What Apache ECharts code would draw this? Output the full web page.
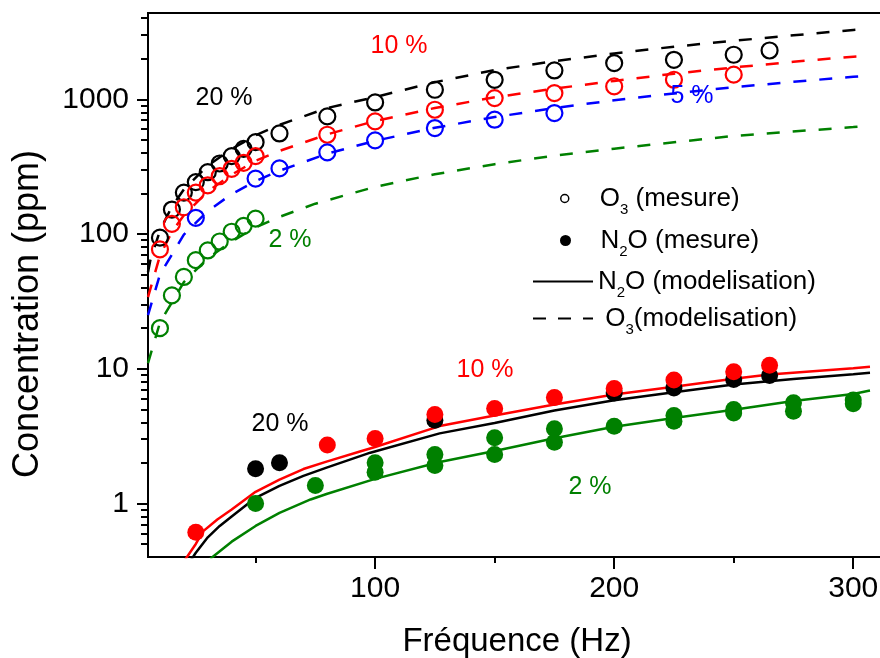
<!DOCTYPE html>
<html>
<head>
<meta charset="utf-8">
<script src="https://cdn.jsdelivr.net/npm/echarts@6/dist/echarts.min.js"></script>
<style>html,body{margin:0;padding:0;background:#fff;}#chart{width:880px;height:658px;}</style>
</head>
<body>
<div id="chart"></div>
<script>
// ---------- data ----------
// O3 measurements (open circles), ppm
const o3Freq20 = [10,15,20,25,30,35,40,45,50,60,80,100,125,150,175,200,225,250,265];
const o3Val20  = [94,152,203,243,288,334,379,429,481,558,747,948,1178,1397,1638,1859,1966,2143,2305];
const o3Freq10 = [10,15,20,25,30,35,40,45,50,80,100,125,150,175,200,225,250];
const o3Val10  = [77,119,158,203,230,269,305,338,379,546,686,837,1022,1113,1247,1398,1524];
const o3Freq5  = [25,50,60,80,100,125,150,175];
const o3Val5   = [132,258,307,404,496,612,706,791];
const o3Freq2  = [10,15,20,25,30,35,40,45,50];
const o3Val2   = [20,35,48,64,75.5,88,104,115,130];

// N2O measurements (filled circles), ppm
const n2oFreq20 = [50,60,125,200,225,250,265];
const n2oVal20  = [1.81,2.0,4.15,6.6,7.2,8.3,8.9];
const n2oFreq10 = [25,80,100,125,150,175,200,225,250,265];
const n2oVal10  = [0.61,2.71,3.03,4.57,5.07,6.12,7.14,8.23,9.5,10.6];
const n2oFreq2  = [50,75,100,100,125,125,150,150,175,175,200,225,225,250,250,275,275,300,300];
const n2oVal2   = [1.0,1.36,2.0,1.7,2.31,1.91,3.07,2.31,3.58,2.85,3.74,4.5,4.08,4.98,4.7,5.58,4.84,5.85,5.5];

// O3 model (dashed)
const o3ModFreq20 = [5,6,10,15,20,30,40,50,60,80,100,125,150,175,200,225,250,275,300,305];
const o3ModVal20  = [52,64,106,160,214,322,428,540,646,862,1040,1340,1650,1920,2190,2460,2720,2990,3270,3320];
const o3ModFreq10 = [5,10,15,20,30,40,50,60,80,100,125,150,175,200,225,250,275,300,305];
const o3ModVal10  = [34,69,104,138,207,276,350,414,550,690,862,1035,1200,1370,1550,1725,1900,2075,2100];
const o3ModFreq5  = [5,10,20,30,40,50,60,80,100,125,150,175,200,225,250,275,300,305];
const o3ModVal5   = [25,50,99,148,198,247,295,395,492,615,738,862,985,1105,1230,1350,1470,1495];
const o3ModFreq2  = [5,10,20,30,40,50,60,75,100,125,150,175,200,250,300,305];
const o3ModVal2   = [11,22,44,66,88,112,134,168,224,278,330,382,430,535,622,632];

// N2O model (solid)
const n2oModFreq10 = [20,25,28,34,40,50,60,70,80,94,100,127,150,175,200,225,250,265,300,307];
const n2oModVal10  = [0.37,0.5,0.62,0.76,0.9,1.22,1.5,1.8,2.05,2.44,2.62,3.75,4.5,5.43,6.44,7.35,8.43,9.07,10.1,10.35];
const n2oModFreq20 = [23,25,30,35,40,50,60,70,80,98,127,150,175,200,225,250,275,300,307];
const n2oModVal20  = [0.38,0.43,0.56,0.68,0.8,1.10,1.35,1.6,1.85,2.38,3.31,3.95,4.9,5.84,6.7,7.64,8.4,9.1,9.33];
const n2oModFreq2  = [31,32,40,50,60,73,80,100,127,150,175,200,225,250,275,300,307];
const n2oModVal2   = [0.39,0.40,0.52,0.68,0.85,1.07,1.18,1.52,2.03,2.45,3.05,3.71,4.3,4.95,5.75,6.5,6.9];

// axes / ticks
const xMin = 5, xMax = 313.7;
const xMajorTicks = [100,200,300];
const xMinorTicks = [50,150,250];
const yMin = 0.4, yMax = 4375;
const yMajorTicks = [1,10,100,1000];
const yMinorTicks = [0.5,0.6,0.7,0.8,0.9,2,3,4,5,6,7,8,9,20,30,40,50,60,70,80,90,200,300,400,500,600,700,800,900,2000,3000,4000];

const legendNames = ['O3 (mesure)','N2O (mesure)','N2O (modelisation)','O3(modelisation)'];
const legendRich = ['{n|O}{s|3}{n| (mesure)}','{n|N}{s|2}{n|O (mesure)}','{n|N}{s|2}{n|O (modelisation)}','{n| O}{s|3}{n|(modelisation)}'];

// ---------- chart ----------
const FONT = '"Liberation Sans", Arial, sans-serif';
const BLACK = '#000000', RED = '#ff0000', BLUE = '#0000ff', GREEN = '#008000';
const zip = (a, b) => a.map((v, i) => [v, b[i]]);
const lg = v => Math.log10(v);

function dashed(name, f, v, c) {
  return {type:'line', name, data: zip(f, v), symbol:'none', smooth:false, silent:true, clip:true,
    lineStyle:{color:c, width:2.5, type:[13,13]}, itemStyle:{color:c}, z:2};
}
function solid(name, f, v, c) {
  return {type:'line', name, data: zip(f, v), symbol:'none', smooth:false, silent:true, clip:true,
    lineStyle:{color:c, width:2.5}, itemStyle:{color:c}, z:2};
}
function open(name, f, v, c) {
  return {type:'scatter', name, data: zip(f, v), symbol:'circle', symbolSize:16, silent:true,
    itemStyle:{color:'rgba(255,255,255,0)', borderColor:c, borderWidth:2.2, opacity:1}, z:3};
}
function filled(name, f, v, c) {
  return {type:'scatter', name, data: zip(f, v), symbol:'circle', symbolSize:17, silent:true,
    itemStyle:{color:c, opacity:1}, z:4};
}

const tickLine = {color:BLACK, width:2};
const hiddenSym = {color:'rgba(0,0,0,0)', borderColor:'rgba(0,0,0,0)', borderWidth:0};
const option = {
  animation:false,
  backgroundColor:'#ffffff',
  grid:{left:148, right:-6, top:13, bottom:101, show:true, borderColor:BLACK, borderWidth:2,
    backgroundColor:'rgba(0,0,0,0)', containLabel:false, outerBoundsMode:'none'},
  xAxis:[
    {type:'value', min:xMin, max:xMax, position:'bottom',
      axisLine:{show:true, onZero:false, lineStyle:{color:BLACK, width:2}},
      axisTick:{show:true, customValues:xMajorTicks, length:12, lineStyle:tickLine},
      axisLabel:{show:true, customValues:xMajorTicks, fontSize:30, fontFamily:FONT, color:BLACK, margin:17},
      splitLine:{show:false},
      name:'Fréquence (Hz)', nameLocation:'middle', nameGap:68,
      nameTextStyle:{fontSize:33, fontFamily:FONT, color:BLACK}},
    {type:'value', min:xMin, max:xMax, position:'bottom',
      axisLine:{show:false, onZero:false},
      axisTick:{show:true, customValues:xMinorTicks, length:6, lineStyle:tickLine},
      axisLabel:{show:false}, splitLine:{show:false}}
  ],
  yAxis:[
    {type:'log', logBase:10, min:yMin, max:yMax, position:'left',
      axisLine:{show:true, onZero:false, lineStyle:{color:BLACK, width:2}},
      axisTick:{show:false}, axisLabel:{show:false}, splitLine:{show:false}, minorTick:{show:false}},
    {type:'value', min:lg(yMin), max:lg(yMax), position:'left',
      axisLine:{show:false, onZero:false},
      axisTick:{show:true, customValues:yMajorTicks.map(lg), length:11, lineStyle:tickLine},
      axisLabel:{show:true, customValues:yMajorTicks.map(lg), fontSize:30, fontFamily:FONT, color:BLACK, margin:19,
        formatter: v => String(Math.round(Math.pow(10, v)))},
      splitLine:{show:false}},
    {type:'value', min:lg(yMin), max:lg(yMax), position:'left',
      axisLine:{show:false, onZero:false},
      axisTick:{show:true, customValues:yMinorTicks.map(lg), length:7, lineStyle:tickLine},
      axisLabel:{show:false}, splitLine:{show:false}}
  ],
  legend: legendNames.map((nm, i) => ({
    data:[nm], orient:'vertical', left:[560,560,532,532][i], top:[180,222,263,300][i], padding:0,
    itemWidth:60, itemHeight:[8,11,14,14][i], selectedMode:false,
    itemStyle: i === 0 ? {borderWidth:1.5} : (i === 1 ? undefined : hiddenSym),
    formatter: () => legendRich[i],
    textStyle:{fontSize:26, fontFamily:FONT, color:BLACK,
      rich:{n:{fontSize:26, fontFamily:FONT, color:BLACK, lineHeight:30},
            s:{fontSize:15, fontFamily:FONT, color:BLACK, lineHeight:10, padding:[22,0,0,0]}}}
  })),
  graphic:[
    {type:'text', x:28, y:314, rotation:Math.PI/2, silent:true,
      style:{text:'Concentration (ppm)', fontSize:36, fontFamily:FONT, fill:BLACK, align:'center', verticalAlign:'middle', textAlign:'center', textVerticalAlign:'middle'}},
    ...[
      ['20 %', 224, 98, BLACK], ['10 %', 399, 46, RED], ['5 %', 692, 96, BLUE], ['2 %', 290, 240, GREEN],
      ['20 %', 280, 424, BLACK], ['10 %', 485, 370, RED], ['2 %', 590, 487, GREEN]
    ].map(t => ({type:'text', x:t[1], y:t[2], silent:true, z:10,
      style:{text:t[0], fontSize:25, fontFamily:FONT, fill:t[3], align:'center', verticalAlign:'middle', textAlign:'center', textVerticalAlign:'middle'}}))
  ],
  series:[
    dashed('O3 mod 20 %', o3ModFreq20, o3ModVal20, BLACK),
    dashed('O3 mod 10 %', o3ModFreq10, o3ModVal10, RED),
    dashed('O3 mod 5 %', o3ModFreq5, o3ModVal5, BLUE),
    dashed('O3 mod 2 %', o3ModFreq2, o3ModVal2, GREEN),
    open('O3 20 %', o3Freq20, o3Val20, BLACK),
    open('O3 10 %', o3Freq10, o3Val10, RED),
    open('O3 5 %', o3Freq5, o3Val5, BLUE),
    open('O3 2 %', o3Freq2, o3Val2, GREEN),
    solid('N2O mod 20 %', n2oModFreq20, n2oModVal20, BLACK),
    solid('N2O mod 2 %', n2oModFreq2, n2oModVal2, GREEN),
    solid('N2O mod 10 %', n2oModFreq10, n2oModVal10, RED),
    filled('N2O 20 %', n2oFreq20, n2oVal20, BLACK),
    filled('N2O 2 %', n2oFreq2, n2oVal2, GREEN),
    filled('N2O 10 %', n2oFreq10, n2oVal10, RED),
    // legend-only entries
    {type:'scatter', name:legendNames[0], data:[], symbol:'circle', itemStyle:{color:'#ffffff', borderColor:BLACK, borderWidth:1.5, opacity:1}},
    {type:'scatter', name:legendNames[1], data:[], symbol:'circle', itemStyle:{color:BLACK, opacity:1}},
    {type:'line', name:legendNames[2], data:[], symbol:'none', lineStyle:{color:BLACK, width:2}, itemStyle:{color:BLACK}},
    {type:'line', name:legendNames[3], data:[], symbol:'none', lineStyle:{color:BLACK, width:2.5, type:[13,12]}, itemStyle:{color:BLACK}}
  ]
};
const chart = echarts.init(document.getElementById('chart'), null, {renderer:'canvas'});
chart.setOption(option);
</script>
</body>
</html>
